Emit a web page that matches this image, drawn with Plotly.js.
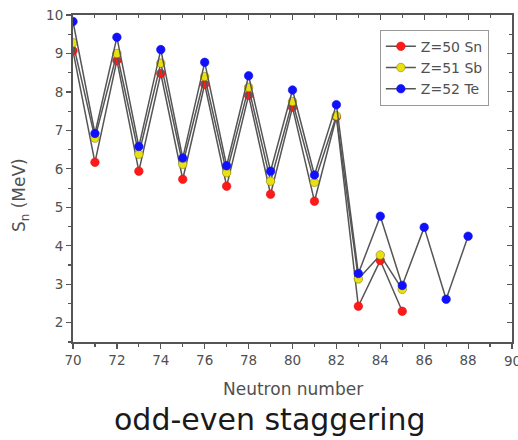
<!DOCTYPE html>
<html>
<head>
<meta charset="utf-8">
<script src="https://cdn.plot.ly/plotly-3.0.1.min.js"></script>
<style>
  html, body { margin: 0; padding: 0; background: #fff; }
  #chart { width: 518px; height: 440px; }
</style>
</head>
<body>
<div id="chart"></div>
<script>
// One-neutron separation energies S_n (MeV) against neutron number
const nSn = [70, 71, 72, 73, 74, 75, 76, 77, 78, 79, 80, 81, 82, 83, 84, 85];
const snSn = [9.07, 6.17, 8.82, 5.94, 8.48, 5.73, 8.20, 5.55, 7.91, 5.34, 7.60, 5.16, 7.35, 2.43, 3.62, 2.30];

const nSb = [70, 71, 72, 73, 74, 75, 76, 77, 78, 79, 80, 81, 82, 83, 84, 85];
const snSb = [9.28, 6.80, 9.00, 6.38, 8.75, 6.12, 8.40, 5.90, 8.12, 5.68, 7.75, 5.65, 7.38, 3.14, 3.76, 2.87];

const nTe = [70, 71, 72, 73, 74, 75, 76, 77, 78, 79, 80, 81, 82, 83, 84, 85, 86, 87, 88];
const snTe = [9.83, 6.92, 9.42, 6.58, 9.10, 6.28, 8.77, 6.08, 8.42, 5.94, 8.05, 5.84, 7.67, 3.28, 4.77, 2.97, 4.48, 2.61, 4.25];

const seriesNames = ['Z=50 Sn', 'Z=51 Sb', 'Z=52 Te'];
const xTicks = [70, 72, 74, 76, 78, 80, 82, 84, 86, 88, 90];
const yTicks = [2, 3, 4, 5, 6, 7, 8, 9, 10];

function series(x, y, name, fill, edge) {
  return {
    x: x, y: y, name: name, type: 'scatter', mode: 'lines+markers',
    line: { color: '#555555', width: 1.5 },
    marker: { color: fill, size: 8.5, line: { color: edge, width: 0.6 } }
  };
}

const traces = [
  series(nSn, snSn, seriesNames[0], '#ff1a1a', '#e01010'),
  series(nSb, snSb, seriesNames[1], '#e8e010', '#8a8010'),
  series(nTe, snTe, seriesNames[2], '#1010ff', '#1010e0')
];

const FAMILY = 'DejaVu Sans, Verdana, sans-serif';
const tickFont = { family: FAMILY, size: 13.5, color: '#505050' };
const titleFont = { family: FAMILY, size: 17, color: '#505050' };

const layout = {
  width: 518, height: 440,
  margin: { l: 73, r: 6, t: 15, b: 98 },
  paper_bgcolor: '#fff', plot_bgcolor: '#fff',
  showlegend: true,
  legend: {
    x: 0.699, y: 0.955, xanchor: 'left', yanchor: 'top',
    bordercolor: '#999', borderwidth: 1, bgcolor: '#fff',
    font: { family: FAMILY, size: 14, color: '#505050' },
    tracegroupgap: 0, itemwidth: 30
  },
  xaxis: {
    range: [70, 90], tickvals: xTicks, ticktext: xTicks.map(String),
    ticks: 'outside', ticklen: 5, tickwidth: 1.2, tickcolor: '#555',
    minor: { dtick: 1, tick0: 70, ticks: 'outside', ticklen: 3, tickcolor: '#555' },
    showline: true, linecolor: '#555', linewidth: 2, mirror: true,
    showgrid: false, zeroline: false, tickfont: tickFont
  },
  xaxis2: {
    range: [70, 90], overlaying: 'x', side: 'top', tickvals: xTicks,
    ticks: 'inside', ticklen: 5, tickcolor: '#555', showticklabels: false,
    minor: { dtick: 1, tick0: 70, ticks: 'inside', ticklen: 3, tickcolor: '#555' },
    showgrid: false, zeroline: false
  },
  yaxis: {
    range: [1.5, 10], tickvals: yTicks, ticktext: yTicks.map(String),
    ticks: 'outside', ticklen: 5, tickwidth: 1.2, tickcolor: '#555',
    minor: { dtick: 0.5, tick0: 1.5, ticks: 'outside', ticklen: 3, tickcolor: '#555' },
    showline: true, linecolor: '#555', linewidth: 2, mirror: true,
    showgrid: false, zeroline: false, tickfont: tickFont
  },
  yaxis2: {
    range: [1.5, 10], overlaying: 'y', side: 'right', tickvals: yTicks,
    ticks: 'inside', ticklen: 5, tickcolor: '#555', showticklabels: false,
    minor: { dtick: 0.5, tick0: 1.5, ticks: 'inside', ticklen: 3, tickcolor: '#555' },
    showgrid: false, zeroline: false
  },
  annotations: [
    {
      // last x tick label, running past the right edge of the figure
      text: '90', xref: 'x', yref: 'paper', x: 90, y: 0, yshift: -9,
      xanchor: 'center', yanchor: 'top', showarrow: false, font: tickFont
    },
    {
      text: 'Neutron number', xref: 'paper', yref: 'paper',
      x: 0.5, y: -0.143, xanchor: 'center', yanchor: 'middle', showarrow: false,
      font: titleFont
    },
    {
      text: 'S<sub>n</sub> (MeV)', xref: 'paper', yref: 'paper', textangle: -90,
      x: -0.118, y: 0.45, xanchor: 'center', yanchor: 'middle', showarrow: false,
      font: titleFont
    },
    {
      text: 'odd-even staggering', xref: 'paper', yref: 'paper',
      x: 0.449, y: -0.238, xanchor: 'center', yanchor: 'middle', showarrow: false,
      font: { family: FAMILY, size: 30, color: '#1a1a1a' }
    }
  ]
};

// invisible trace that anchors the mirrored top and right axes
traces.push({ x: [70], y: [1.5], xaxis: 'x2', yaxis: 'y2', mode: 'markers',
  marker: { opacity: 0 }, showlegend: false, hoverinfo: 'skip' });

Plotly.newPlot('chart', traces, layout, { staticPlot: true, displayModeBar: false });
</script>
</body>
</html>
